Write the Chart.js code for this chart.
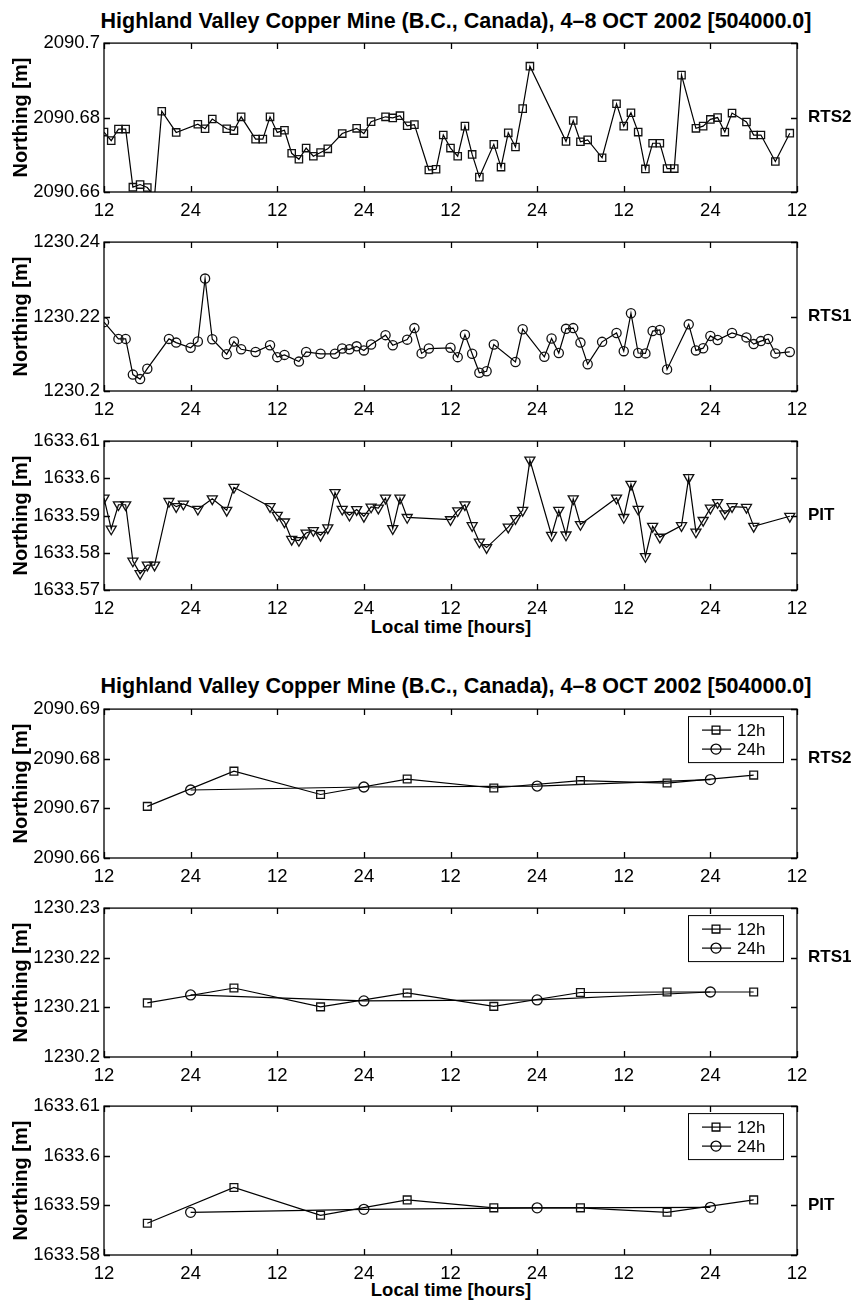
<!DOCTYPE html>
<html>
<head>
<meta charset="utf-8">
<script src="https://cdn.jsdelivr.net/npm/chart.js@4.4.0/dist/chart.umd.min.js"></script>
<style>
  html, body { margin: 0; padding: 0; background: #fff; }
  body { width: 854px; height: 1301px; position: relative; overflow: hidden; font-family: "Liberation Sans", Arial, sans-serif; }
  canvas { position: absolute; left: 0; }
  .ttl { position: absolute; left: 452px; transform: translateX(-50%); white-space: nowrap; font-weight: bold; color: #000; line-height: 1; }
</style>
</head>
<body>
<div class="ttl" style="top:11px;font-size:21.5px;left:456px;">Highland Valley Copper Mine (B.C., Canada), 4–8 OCT 2002 [504000.0]</div>
<div class="ttl" style="top:618px;font-size:18.5px;left:451px;">Local time [hours]</div>
<div class="ttl" style="top:676px;font-size:21.5px;left:456px;">Highland Valley Copper Mine (B.C., Canada), 4–8 OCT 2002 [504000.0]</div>
<div class="ttl" style="top:1281px;font-size:18.5px;left:451px;">Local time [hours]</div>

<canvas id="c1" width="854" height="196"></canvas>
<canvas id="c2" width="854" height="196"></canvas>
<canvas id="c3" width="854" height="196"></canvas>
<canvas id="c4" width="854" height="196"></canvas>
<canvas id="c5" width="854" height="196"></canvas>
<canvas id="c6" width="854" height="196"></canvas>

<script>
// hours since 4 Oct 12:00 local, ticks every 12 h
const hourTicks = [0, 12, 24, 36, 48, 60, 72, 84, 96];
const hourLabels = ['12', '24', '12', '24', '12', '24', '12', '24', '12'];

// --- hourly solutions (top figure) ---
const rts2Hours = [0,1,2,3,4,5,6,7,8,10,13,14,15,17,18,19,21,22,23,24,25,26,27,28,29,30,31,33,35,36,37,39,40,41,42,43,45,46,47,48,49,50,51,52,54,55,56,57,58,59,64,65,66,67,69,71,72,73,74,75,76,77,78,79,80,82,83,84,85,86,87,89,90,91,93,95];
const rts2North = [2090.6761,2090.6738,2090.6769,2090.6769,2090.6613,2090.6620,2090.6612,2090.6588,2090.6817,2090.6760,2090.6782,2090.6770,2090.6796,2090.6770,2090.6765,2090.6802,2090.6742,2090.6742,2090.6802,2090.6760,2090.6766,2090.6704,2090.6688,2090.6718,2090.6696,2090.6706,2090.6716,2090.6757,2090.6771,2090.6757,2090.6789,2090.6802,2090.6799,2090.6805,2090.6778,2090.6781,2090.6659,2090.6661,2090.6753,2090.6718,2090.6696,2090.6777,2090.6701,2090.6640,2090.6728,2090.6667,2090.6759,2090.6721,2090.6824,2090.6938,2090.6736,2090.6792,2090.6735,2090.6740,2090.6692,2090.6837,2090.6777,2090.6813,2090.6761,2090.6662,2090.6731,2090.6731,2090.6663,2090.6663,2090.6914,2090.6771,2090.6777,2090.6795,2090.6800,2090.6761,2090.6812,2090.6788,2090.6753,2090.6753,2090.6682,2090.6758];

const rts1Hours = [0,2,3,4,5,6,9,10,12,13,14,15,17,18,19,21,23,24,25,27,28,30,32,33,34,35,36,37,39,40,42,43,44,45,48,49,50,51,52,53,54,57,58,61,62,63,64,65,66,67,69,71,72,73,74,75,76,77,78,81,82,83,84,85,87,89,90,91,92,93,95];
const rts1North = [1230.2185,1230.2140,1230.2140,1230.2044,1230.2032,1230.2060,1230.2140,1230.2130,1230.2116,1230.2133,1230.2302,1230.2139,1230.2099,1230.2133,1230.2112,1230.2105,1230.2123,1230.2091,1230.2097,1230.2079,1230.2105,1230.2100,1230.2100,1230.2114,1230.2112,1230.2120,1230.2109,1230.2125,1230.2150,1230.2123,1230.2138,1230.2169,1230.2101,1230.2114,1230.2116,1230.2091,1230.2151,1230.2100,1230.2049,1230.2053,1230.2125,1230.2078,1230.2166,1230.2092,1230.2141,1230.2102,1230.2167,1230.2169,1230.2130,1230.2072,1230.2132,1230.2156,1230.2107,1230.2209,1230.2102,1230.2101,1230.2161,1230.2164,1230.2058,1230.2179,1230.2109,1230.2115,1230.2148,1230.2137,1230.2156,1230.2144,1230.2126,1230.2134,1230.2140,1230.2101,1230.2105];

const pitHours = [0,1,2,3,4,5,6,7,9,10,11,13,15,17,18,23,24,25,26,27,28,29,30,31,32,33,34,35,36,37,38,39,40,41,42,48,49,50,51,52,53,56,57,58,59,62,63,64,65,66,71,72,73,74,75,76,77,80,81,82,83,84,85,86,87,89,90,95];
const pitNorth = [1633.5947,1633.5864,1633.5929,1633.5929,1633.5778,1633.5744,1633.5767,1633.5767,1633.5938,1633.5924,1633.5931,1633.5917,1633.5945,1633.5914,1633.5976,1633.5924,1633.5901,1633.5883,1633.5836,1633.5833,1633.5853,1633.5860,1633.5847,1633.5867,1633.5962,1633.5917,1633.5901,1633.5916,1633.5898,1633.5923,1633.5920,1633.5947,1633.5865,1633.5947,1633.5895,1633.5889,1633.5913,1633.5929,1633.5873,1633.5829,1633.5814,1633.5869,1633.5892,1633.5914,1633.6049,1633.5847,1633.5914,1633.5848,1633.5945,1633.5876,1633.5947,1633.5895,1633.5984,1633.5917,1633.5790,1633.5871,1633.5842,1633.5873,1633.6002,1633.5856,1633.5887,1633.5920,1633.5935,1633.5905,1633.5924,1633.5922,1633.5871,1633.5898];

// --- 12h / 24h sessions (bottom figure) ---
const hours12 = [6, 18, 30, 42, 54, 66, 78, 90];
const hours24 = [12, 36, 60, 84];
const rts2_12h = [2090.6704,2090.6775,2090.6728,2090.6759,2090.6741,2090.6756,2090.6751,2090.6767];
const rts2_24h = [2090.6737,2090.6743,2090.6745,2090.6758];
const rts1_12h = [1230.2109,1230.2139,1230.2101,1230.2129,1230.2102,1230.2130,1230.2131,1230.2131];
const rts1_24h = [1230.2125,1230.2113,1230.2115,1230.2131];
const pit_12h = [1633.5864,1633.5936,1633.5880,1633.5911,1633.5895,1633.5895,1633.5886,1633.5911];
const pit_24h = [1633.5886,1633.5892,1633.5895,1633.5896];

const rts2Ticks = [2090.66, 2090.68, 2090.70];
const rts1Ticks = [1230.20, 1230.22, 1230.24];
const pitTicks = [1633.57, 1633.58, 1633.59, 1633.60, 1633.61];
const rts2TicksB = [2090.66, 2090.67, 2090.68, 2090.69];
const rts1TicksB = [1230.20, 1230.21, 1230.22, 1230.23];
const pitTicksB = [1633.58, 1633.59, 1633.60, 1633.61];

const FONT = '"Liberation Sans", Arial, sans-serif';

function pts(xs, ys) {
    return xs.map((h, i) => ({ x: h, y: ys[i] }));
}

function series(label, xs, ys, style, radius, rotation) {
    return {
        label: label,
        data: pts(xs, ys),
        borderColor: '#000',
        borderWidth: 1.2,
        backgroundColor: 'rgba(0,0,0,0)',
        pointStyle: style,
        pointRadius: radius,
        pointRotation: rotation || 0,
        pointBorderColor: '#111',
        pointBorderWidth: 1.3,
        pointBackgroundColor: 'rgba(0,0,0,0)',
        tension: 0,
        fill: false
    };
}

// box, inward ticks, y label, station name, legend
const framePlugin = {
    id: 'frame',
    afterDraw(chart) {
        const o = chart.options.plugins.frame;
        const ctx = chart.ctx;
        const a = chart.chartArea;
        const xs = chart.scales.x, ys = chart.scales.y;
        ctx.save();
        ctx.strokeStyle = '#000';
        ctx.lineWidth = 1.3;
        ctx.strokeRect(a.left, a.top, a.right - a.left, a.bottom - a.top);
        ctx.beginPath();
        xs.ticks.forEach(t => {
            const p = Math.round(xs.getPixelForValue(t.value)) + 0.5;
            ctx.moveTo(p, a.bottom); ctx.lineTo(p, a.bottom - 6);
            ctx.moveTo(p, a.top); ctx.lineTo(p, a.top + 6);
        });
        ys.ticks.forEach(t => {
            const p = Math.round(ys.getPixelForValue(t.value)) + 0.5;
            ctx.moveTo(a.left, p); ctx.lineTo(a.left + 6, p);
            ctx.moveTo(a.right, p); ctx.lineTo(a.right - 6, p);
        });
        ctx.stroke();

        ctx.fillStyle = '#000';
        ctx.font = 'bold 20px ' + FONT;
        ctx.textAlign = 'center';
        ctx.textBaseline = 'middle';
        ctx.save();
        ctx.translate(21, (a.top + a.bottom) / 2);
        ctx.rotate(-Math.PI / 2);
        ctx.fillText('Northing [m]', 0, 0);
        ctx.restore();

        ctx.font = 'bold 17px ' + FONT;
        ctx.textAlign = 'left';
        ctx.fillText(o.station, a.right + 11, ys.getPixelForValue(o.stationAt));

        if (o.legend) {
            const bx = a.right - 109, by = a.top + 7, bw = 95, bh = 46;
            ctx.fillStyle = '#fff';
            ctx.fillRect(bx, by, bw, bh);
            ctx.lineWidth = 1;
            ctx.strokeRect(bx + 0.5, by + 0.5, bw, bh);
            chart.data.datasets.forEach((ds, i) => {
                const ly = by + 14 + i * 19;
                const mx = bx + 28;
                ctx.strokeStyle = '#000';
                ctx.lineWidth = 1.2;
                ctx.beginPath();
                ctx.moveTo(bx + 14, ly); ctx.lineTo(bx + 43, ly);
                ctx.stroke();
                ctx.lineWidth = 1.3;
                ctx.beginPath();
                if (ds.pointStyle === 'rect') {
                    const s = ds.pointRadius * Math.SQRT1_2;
                    ctx.rect(mx - s, ly - s, 2 * s, 2 * s);
                } else {
                    ctx.arc(mx, ly, ds.pointRadius, 0, Math.PI * 2);
                }
                ctx.stroke();
                ctx.fillStyle = '#000';
                ctx.font = '17px ' + FONT;
                ctx.textBaseline = 'middle';
                ctx.fillText(ds.label, bx + 49, ly + 1);
            });
        }
        ctx.restore();
    }
};

function yFmt(v) {
    return String(parseFloat(Number(v).toFixed(2)));
}

function makeChart(id, top, datasets, yTicks, station, stationAt, legend) {
    const canvas = document.getElementById(id);
    canvas.style.top = (top - 14) + 'px';
    return new Chart(canvas, {
        type: 'line',
        data: { datasets: datasets },
        plugins: [framePlugin],
        options: {
            responsive: false,
            animation: false,
            devicePixelRatio: 1,
            layout: { padding: { top: 14, right: 57, left: 0, bottom: 0 } },
            plugins: {
                legend: { display: false },
                tooltip: { enabled: false },
                frame: { station: station, stationAt: stationAt, legend: legend }
            },
            scales: {
                x: {
                    type: 'linear',
                    min: 0,
                    max: 96,
                    grid: { display: false, drawTicks: false },
                    border: { display: false },
                    afterBuildTicks: s => { s.ticks = hourTicks.map(v => ({ value: v })); },
                    afterFit: s => { s.height = 32; },
                    ticks: {
                        padding: 8,
                        maxRotation: 0,
                        autoSkip: false,
                        color: '#000',
                        font: { family: FONT, size: 18.5 },
                        callback: (v, i) => hourLabels[i]
                    }
                },
                y: {
                    type: 'linear',
                    min: yTicks[0],
                    max: yTicks[yTicks.length - 1],
                    grid: { display: false, drawTicks: false },
                    border: { display: false },
                    afterBuildTicks: s => { s.ticks = yTicks.map(v => ({ value: v })); },
                    afterFit: s => { s.width = 104; },
                    ticks: {
                        padding: 4,
                        autoSkip: false,
                        color: '#000',
                        font: { family: FONT, size: 18.5 },
                        callback: v => yFmt(v)
                    }
                }
            }
        }
    });
}

makeChart('c1', 42, [series('RTS2', rts2Hours, rts2North, 'rect', 5.2)], rts2Ticks, 'RTS2', 2090.68, false);
makeChart('c2', 241, [series('RTS1', rts1Hours, rts1North, 'circle', 4.6)], rts1Ticks, 'RTS1', 1230.22, false);
makeChart('c3', 440, [series('PIT', pitHours, pitNorth, 'triangle', 5.8, 180)], pitTicks, 'PIT', 1633.59, false);

makeChart('c4', 708, [series('12h', hours12, rts2_12h, 'rect', 5.5), series('24h', hours24, rts2_24h, 'circle', 5)], rts2TicksB, 'RTS2', 2090.68, true);
makeChart('c5', 907, [series('12h', hours12, rts1_12h, 'rect', 5.5), series('24h', hours24, rts1_24h, 'circle', 5)], rts1TicksB, 'RTS1', 1230.22, true);
makeChart('c6', 1105, [series('12h', hours12, pit_12h, 'rect', 5.5), series('24h', hours24, pit_24h, 'circle', 5)], pitTicksB, 'PIT', 1633.59, true);
</script>
</body>
</html>
